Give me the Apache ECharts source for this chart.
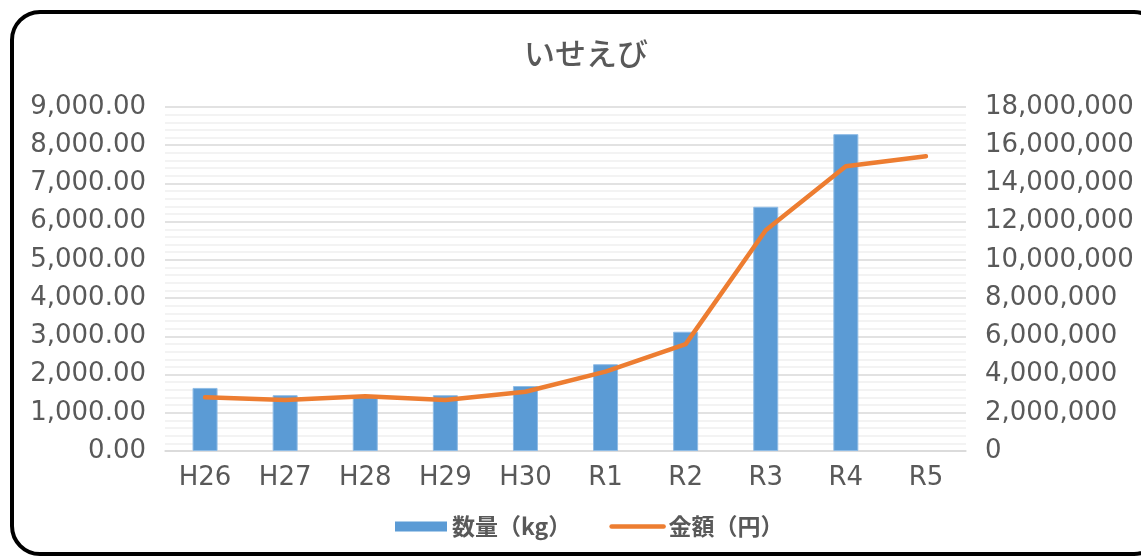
<!DOCTYPE html>
<html>
<head>
<meta charset="utf-8">
<script src="https://cdn.jsdelivr.net/npm/echarts@6/dist/echarts.min.js"></script>
<style>html,body{margin:0;padding:0;background:#fff}#c{width:1141px;height:558px}</style>
</head>
<body>
<div id="c"></div>
<script>
const categories = ['H26','H27','H28','H29','H30','R1','R2','R3','R4','R5'];
const quantityKg = [1650, 1460, 1420, 1460, 1700, 2270, 3120, 6390, 8290, null];
const amountYen = [2810000, 2670000, 2870000, 2670000, 3100000, 4150000, 5590000, 11550000, 14900000, 15420000];
const leftTicks = {min: 0, max: 9000, interval: 1000};
const rightTicks = {min: 0, max: 18000000, interval: 2000000};

const chart = echarts.init(document.getElementById('c'));
const gray = '#595959';
const axisFont = {color: gray, fontSize: 26, fontFamily: 'DejaVu Sans'};
chart.setOption({
  animation: false,
  backgroundColor: '#fff',
  graphic: [{
    type: 'rect', shape: {x: 12, y: 12, width: 1150, height: 542, r: 28},
    style: {fill: 'none', stroke: '#000', lineWidth: 4}, z: 100, silent: true
  }],
  title: {
    text: 'いせえび', left: 519, top: 33,
    textStyle: {color: gray, fontSize: 31, fontWeight: 500, fontFamily: 'Noto Sans CJK JP'}
  },
  legend: {
    left: 390, bottom: 15, itemWidth: 52, itemHeight: 10, itemGap: 38,
    textStyle: {color: gray, fontSize: 23, fontFamily: 'Noto Sans CJK JP', fontWeight: 'bold'},
    data: [
      {name: '数量（kg）', icon: 'rect', itemStyle: {borderWidth: 0}},
      {name: '金額（円）', itemStyle: {opacity: 0}, lineStyle: {width: 4.5, cap: 'round', color: '#ED7D31'}}
    ]
  },
  grid: {left: 165, right: 175, top: 107, bottom: 107, containLabel: false},
  xAxis: {
    type: 'category', data: categories,
    axisLine: {show: true, lineStyle: {color: '#D9D9D9', width: 1.5}},
    axisTick: {show: false},
    axisLabel: Object.assign({margin: 14}, axisFont)
  },
  yAxis: [{
    type: 'value', min: leftTicks.min, max: leftTicks.max, interval: leftTicks.interval,
    axisLine: {show: false}, axisTick: {show: false},
    axisLabel: Object.assign({margin: 19, formatter: v => v.toLocaleString('en-US', {minimumFractionDigits: 2, maximumFractionDigits: 2})}, axisFont),
    splitLine: {lineStyle: {color: '#D9D9D9', width: 1.5}},
    minorTick: {show: false, splitNumber: 5},
    minorSplitLine: {show: true, lineStyle: {color: '#F0F0F0', width: 1.5}}
  }, {
    type: 'value', min: rightTicks.min, max: rightTicks.max, interval: rightTicks.interval,
    axisLine: {show: false}, axisTick: {show: false},
    axisLabel: Object.assign({margin: 19, formatter: v => v.toLocaleString('en-US')}, axisFont),
    splitLine: {show: false}
  }],
  series: [{
    name: '数量（kg）', type: 'bar', data: quantityKg, yAxisIndex: 0, barWidth: 25,
    itemStyle: {color: '#5B9BD5', borderColor: '#8FBCE6', borderWidth: 1}
  }, {
    name: '金額（円）', type: 'line', data: amountYen, yAxisIndex: 1,
    symbol: 'none', lineStyle: {color: '#ED7D31', width: 4.5, cap: 'round', join: 'round'},
    itemStyle: {color: '#ED7D31'}
  }]
});
</script>
</body>
</html>
